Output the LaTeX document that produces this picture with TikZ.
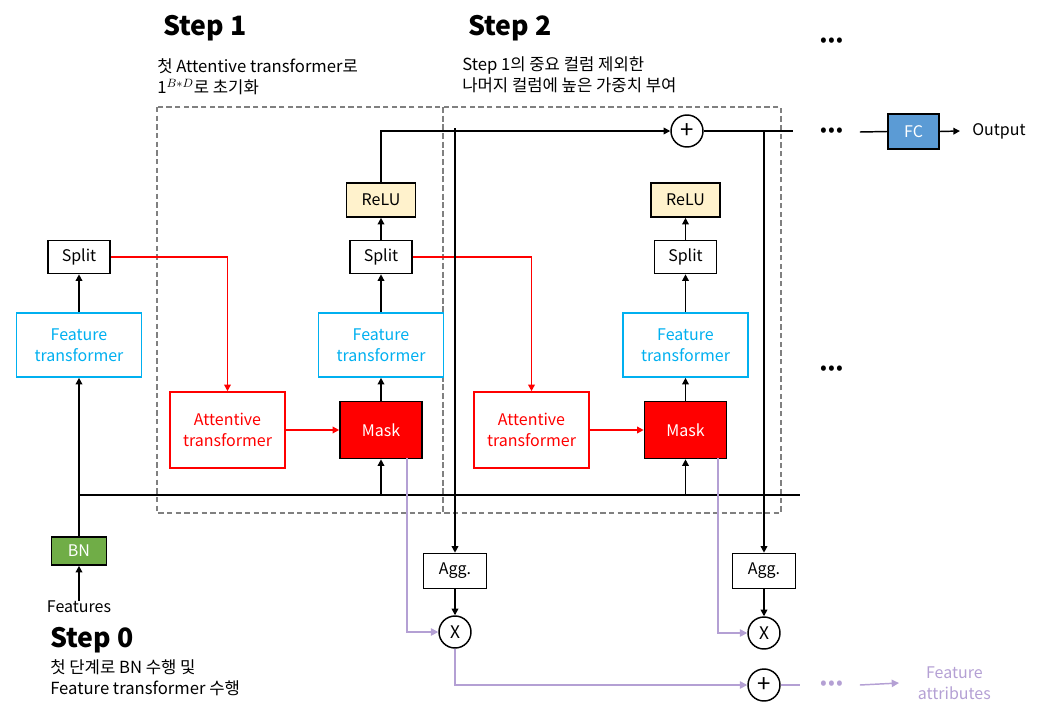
\documentclass[tikz,border=0pt]{standalone}
\usepackage{fontspec}
\setmainfont{Noto Sans CJK KR}
\usetikzlibrary{positioning,arrows.meta,calc}
\definecolor{ftcyan}{RGB}{0,176,240}
\definecolor{atred}{RGB}{255,0,0}
\definecolor{bngreen}{RGB}{112,173,71}
\definecolor{fcblue}{RGB}{91,155,213}
\definecolor{relufill}{RGB}{255,242,204}
\definecolor{attrpurple}{RGB}{180,160,212}
\definecolor{framegray}{RGB}{128,128,128}
\newcommand{\tripledot}{•\kern1pt•\kern1pt•}
\tikzset{
    boxfont/.style={font=\fontsize{12}{15.75}\selectfont},
    plain/.style={draw=black, line width=1.2pt, fill=white, align=center, inner sep=0pt, boxfont},
    splitbox/.style={plain, minimum width=46.5pt, minimum height=24.75pt},
    relubox/.style={plain, fill=relufill, minimum width=51.75pt, minimum height=25.5pt},
    aggbox/.style={plain, minimum width=47.25pt, minimum height=26.25pt},
    bnbox/.style={plain, fill=bngreen, text=white, minimum width=41.25pt, minimum height=21pt},
    fcbox/.style={plain, fill=fcblue, text=white, minimum width=38.25pt, minimum height=26.25pt},
    ftbox/.style={draw=ftcyan, text=ftcyan, line width=1.2pt, fill=white, align=center, inner sep=0pt, boxfont, minimum width=93.75pt, minimum height=48pt},
    atbox/.style={draw=atred, text=atred, line width=1.2pt, fill=white, align=center, inner sep=0pt, boxfont, minimum width=86.25pt, minimum height=57pt},
    maskbox/.style={plain, fill=atred, text=white, minimum width=61.5pt, minimum height=42.75pt},
    opcirc/.style={circle, draw=black, line width=1.1pt, fill=white, inner sep=0pt, minimum size=24pt, font=\fontsize{13}{13}\selectfont},
    pluscirc/.style={opcirc, font=\fontsize{18}{18}\selectfont},
    title/.style={inner sep=0pt, anchor=west, font=\fontsize{20}{24}\selectfont\bfseries},
    note/.style={inner sep=0pt, anchor=west, align=left, font=\fontsize{12.5}{15.75}\selectfont},
    txt/.style={inner sep=0pt, boxfont},
    dots/.style={inner sep=0pt, font=\fontsize{15}{15}\selectfont},
    frame/.style={draw=framegray, line width=1pt, dash pattern=on 4pt off 2.5pt},
    line/.style={draw=black, line width=1.1pt},
    arr/.style={-{Triangle[length=5pt,width=5pt]}, line width=1.1pt, draw=black},
    redarr/.style={-{Triangle[length=5pt,width=5pt]}, line width=1.1pt, draw=atred},
    pline/.style={draw=attrpurple, line width=1.1pt},
    parr/.style={-{Triangle[length=5.5pt,width=5.5pt]}, line width=1.1pt, draw=attrpurple}
}
\begin{document}
\begin{tikzpicture}[x=0.75pt, y=-0.75pt]
\useasboundingbox (0,0) rectangle (1042,714);

% step frames
\draw[frame] (157,107) rectangle (443,513);
\draw[frame] (443,107) rectangle (781,513);

% headings
\node[title] (t1) at (163,28) {Step 1};
\node[note] (n1) at (157,77) {첫 Attentive transformer로\\1$^{B*D}$로 초기화};
\node[title] (t2) at (468,28) {Step 2};
\node[note] (n2) at (462,75) {Step 1의 중요 컬럼 제외한\\나머지 컬럼에 높은 가중치 부여};
\node[title] (t0) at (50,640) {Step 0};
\node[note] (n0) at (50,678) {첫 단계로 BN 수행 및\\Feature transformer 수행};

% step 0
\node[txt] (feat) at (79,607) {Features};
\node[bnbox] (bn) at (79,551) {BN};
\node[ftbox] (ft0) at (79,345) {Feature\\transformer};
\node[splitbox] (split0) at (79,257) {Split};

% step 1
\node[atbox] (at1) at (227.5,430) {Attentive\\transformer};
\node[maskbox] (mask1) at (381,430) {Mask};
\node[ftbox] (ft1) at (381,345) {Feature\\transformer};
\node[splitbox] (split1) at (381,257) {Split};
\node[relubox] (relu1) at (381,200) {ReLU};

% step 2
\node[atbox] (at2) at (531.5,430) {Attentive\\transformer};
\node[maskbox] (mask2) at (685.5,430) {Mask};
\node[ftbox] (ft2) at (685.5,345) {Feature\\transformer};
\node[splitbox] (split2) at (685.5,257) {Split};
\node[relubox] (relu2) at (685.5,200) {ReLU};

% output side
\node[pluscirc] (plus1) at (687,131) {+};
\node[dots] (dtop) at (832,42) {\tripledot};
\node[dots] (dout) at (832,132) {\tripledot};
\node[dots] (dmid) at (832,370) {\tripledot};
\node[fcbox] (fc) at (913.5,131.5) {FC};
\node[txt, anchor=west, inner xsep=9pt] (out) at (960,131) {Output};

% aggregation
\node[aggbox] (agg1) at (455,571) {Agg.};
\node[opcirc] (mul1) at (455,632) {X};
\node[aggbox] (agg2) at (764,571) {Agg.};
\node[opcirc] (mul2) at (764,633) {X};
\node[pluscirc] (sum) at (764,685) {+};
\node[dots, text=attrpurple] (dattr) at (832,685) {\tripledot};
\node[txt, text=attrpurple, align=center, anchor=west, inner xsep=14pt] (attr) at (899,683) {Feature\\attributes};

% main path
\coordinate (busW) at (79,495);
\coordinate (busE) at (800,495);
\draw[arr] (feat.north) -- (bn.south);
\draw[arr] (bn.north) -- (ft0.south);
\draw[arr] (ft0.north) -- (split0.south);
\draw[line] (busW) -- (busE);
\draw[redarr] (split0.east) -| (at1.north);
\draw[redarr] (at1.east) -- (mask1.west);
\draw[arr] (mask1 |- busW) -- (mask1.south);
\draw[arr] (mask1.north) -- (ft1.south);
\draw[arr] (ft1.north) -- (split1.south);
\draw[arr] (split1.north) -- (relu1.south);
\draw[redarr] (split1.east) -| (at2.north);
\draw[redarr] (at2.east) -- (mask2.west);
\draw[arr] (mask2 |- busW) -- (mask2.south);
\draw[arr] (mask2.north) -- (ft2.south);
\draw[arr] (ft2.north) -- (split2.south);
\draw[arr] (split2.north) -- (relu2.south);

% decision output
\coordinate (topE) at (793,131);
\coordinate (tap1) at (455,128);
\coordinate (tap2) at (764,131);
\draw[arr] (relu1.north) |- (plus1.west);
\draw[line] (plus1.east) -- (topE);
\draw[line] ([xshift=12pt]dout.east) -- (fc.west);
\draw[arr] (fc.east) -- (out.west);
\draw[arr] (tap1) -- (agg1.north);
\draw[arr] (tap2) -- (agg2.north);
\draw[arr] (agg1.south) -- (mul1.north);
\draw[arr] (agg2.south) -- (mul2.north);

% feature attributes
\coordinate (m1out) at (407,458);
\coordinate (m2out) at (718,458);
\coordinate (sumE) at (800,685);
\draw[parr] (m1out) |- (mul1.west);
\draw[parr] (m2out) |- (mul2.west);
\draw[parr] (mul1.south) |- (sum.west);
\draw[pline] (sum.east) -- (sumE);
\draw[parr] ([xshift=12pt]dattr.east) -- (attr.west);
\end{tikzpicture}
\end{document}
